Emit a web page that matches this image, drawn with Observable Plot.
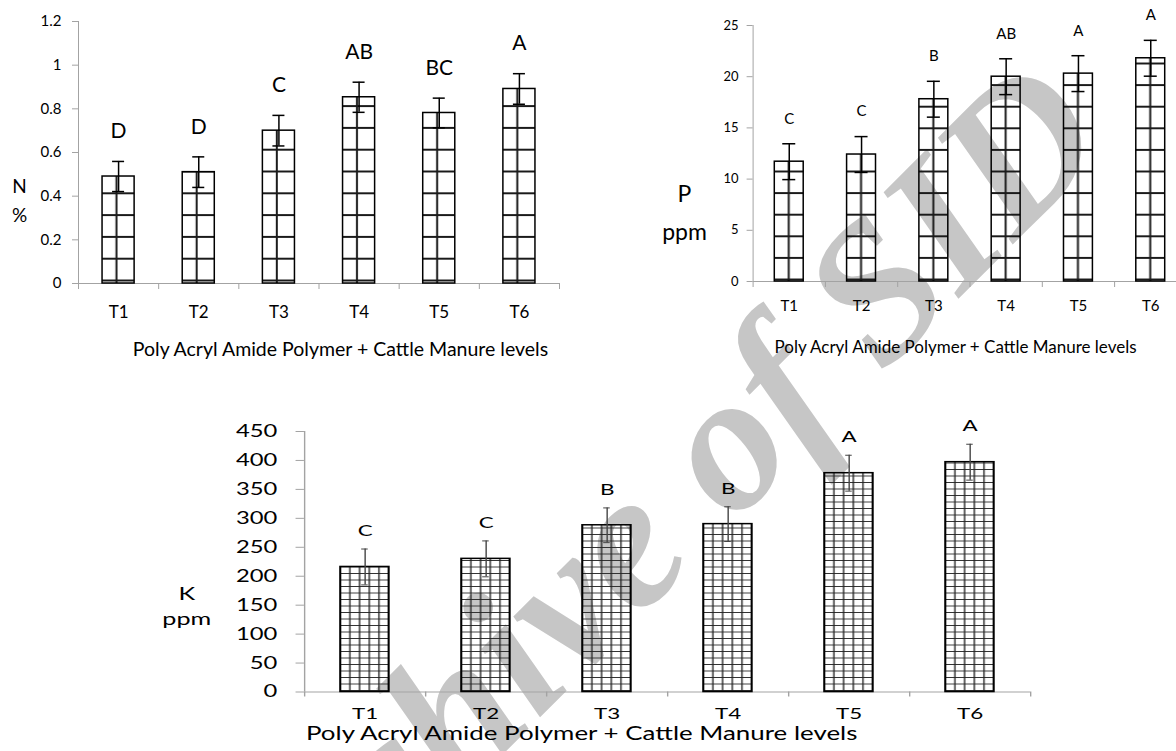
<!DOCTYPE html>
<html><head><meta charset="utf-8">
<script src="https://cdn.jsdelivr.net/npm/d3@7"></script>
<script src="https://cdn.jsdelivr.net/npm/@observablehq/plot@0.6"></script>
<style>
html,body{margin:0;padding:0;background:#fff;}
body{width:1176px;height:751px;overflow:hidden;position:relative;font-family:Lato,sans-serif;}
.layer{position:absolute;left:0;top:0;}
</style></head>
<body>
<div id="wm" class="layer"></div>
<div id="cN" class="layer" style="left:0;top:0"></div>
<div id="cP" class="layer" style="left:600px;top:0"></div>
<div id="cK" class="layer" style="left:0;top:400px;transform:scaleX(1.4);transform-origin:0 0"></div>
<script>
// ---------- data ----------
const categories = ["T1", "T2", "T3", "T4", "T5", "T6"];
const xTitle = "Poly Acryl Amide Polymer + Cattle Manure levels";

const nValues = [0.49, 0.51, 0.70, 0.853, 0.781, 0.891];
const nErrors = [0.069, 0.07, 0.07, 0.069, 0.068, 0.07];
const nLetters = ["D", "D", "C", "AB", "BC", "A"];
const nTicks = [0, 0.2, 0.4, 0.6, 0.8, 1, 1.2];
const nTickLabels = ["0", "0.2", "0.4", "0.6", "0.8", "1", "1.2"];
const nLabel = "N\n%";

const pValues = [11.7, 12.4, 17.8, 20.0, 20.3, 21.8];
const pErrors = [1.75, 1.75, 1.75, 1.75, 1.75, 1.75];
const pLetters = ["C", "C", "B", "AB", "A", "A"];
const pTicks = [0, 5, 10, 15, 20, 25];
const pTickLabels = ["0", "5", "10", "15", "20", "25"];
const pLabel = "P\nppm";

const kValues = [216, 230, 288, 290, 378, 397];
const kErrors = [31, 31, 30, 30, 31, 31];
const kLetters = ["C", "C", "B", "B", "A", "A"];
const kTicks = [0, 50, 100, 150, 200, 250, 300, 350, 400, 450];
const kTickLabels = ["0", "50", "100", "150", "200", "250", "300", "350", "400", "450"];
const kLabel = "K\nppm";

const watermark = "Archive of SID";

// ---------- drawing ----------
const GRAY = "#a3a3a3";

function chart(cfg) {
  const n = categories.length;
  const rows = categories.map((c, i) => ({c, i, v: cfg.values[i], e: cfg.errors[i], t: cfg.letters[i]}));
  const mid = d => d.i + 0.5;
  const plot = Plot.plot({
    width: cfg.width, height: cfg.height,
    marginLeft: cfg.ml, marginRight: cfg.width - cfg.right,
    marginTop: cfg.top, marginBottom: cfg.height - cfg.base,
    x: {domain: [0, n]},
    y: {domain: [cfg.ticks[0], cfg.ticks[cfg.ticks.length - 1]]},
    style: {background: "transparent", fontFamily: "Lato, sans-serif", color: "#000", overflow: "visible", maxWidth: "none"},
    marks: [
      Plot.ruleY([0], {stroke: GRAY}),
      Plot.ruleX([0], {stroke: GRAY}),
      Plot.axisY(cfg.ticks, {tickFormat: d => cfg.tickLabels[cfg.ticks.indexOf(d)], tickSize: cfg.yTickSize, tickPadding: cfg.yTickPad, fontSize: cfg.yFont, stroke: GRAY, fill: "#000", label: null}),
      Plot.axisX(d3.range(n + 1), {tickSize: cfg.xTickSize, tickFormat: () => "", stroke: GRAY, label: null}),
      Plot.axisX(categories.map((c, i) => i + 0.5), {tickSize: 0, tickPadding: cfg.xTickPad, tickFormat: d => categories[Math.floor(d)], fontSize: cfg.xFont, fill: "#000", label: null}),
      Plot.rectY(rows, {x1: d => d.i + 0.3, x2: d => d.i + 0.7, y: "v", fill: `url(#${cfg.id})`, stroke: "#000", strokeWidth: cfg.barStroke}),
      Plot.ruleX(rows, {x: mid, y1: d => d.v - d.e, y2: d => d.v + d.e, stroke: cfg.errColor, strokeWidth: cfg.errWidth}),
      Plot.ruleY(rows, {y: d => d.v + d.e, x1: d => d.i + 0.5 - cfg.cap, x2: d => d.i + 0.5 + cfg.cap, stroke: cfg.errColor, strokeWidth: cfg.errWidth}),
      Plot.ruleY(rows, {y: d => d.v - d.e, x1: d => d.i + 0.5 - cfg.cap, x2: d => d.i + 0.5 + cfg.cap, stroke: cfg.errColor, strokeWidth: cfg.errWidth}),
      Plot.text(rows, {x: mid, y: d => d.v + d.e, text: "t", dy: cfg.letterDy, fontSize: cfg.letterFont, fill: "#000"}),
      Plot.text([xTitle], {frameAnchor: "bottom", dx: cfg.titleDx, dy: cfg.titleDy, fontSize: cfg.titleFont, fill: "#000"}),
      Plot.text([cfg.label], {frameAnchor: "left", dx: cfg.labDx, dy: cfg.labDy, fontSize: cfg.labFont, lineHeight: cfg.labLH, textAnchor: "middle", fill: "#000"})
    ]
  });
  // hatch pattern aligned with the scales
  const xs = plot.scale("x"), ys = plot.scale("y");
  const x0 = xs.apply(0), step = xs.apply(1) - x0, base = ys.apply(0);
  const defs = d3.select(plot).insert("defs", ":first-child");
  const p = defs.append("pattern").attr("id", cfg.id).attr("patternUnits", "userSpaceOnUse")
    .attr("x", x0).attr("y", base - cfg.hOff - cfg.hSpace / 2)
    .attr("width", step).attr("height", cfg.hSpace);
  p.append("line").attr("x1", 0).attr("x2", step).attr("y1", cfg.hSpace / 2).attr("y2", cfg.hSpace / 2)
    .attr("stroke", cfg.hColor).attr("stroke-width", cfg.hWidth);
  cfg.vLines.forEach(f => {
    p.append("line").attr("x1", f * step).attr("x2", f * step).attr("y1", 0).attr("y2", cfg.hSpace)
      .attr("stroke", cfg.vColor).attr("stroke-width", cfg.vWidth);
  });
  return plot;
}

// watermark (behind the charts)
const wm = d3.select("#wm").append("svg").attr("width", 1176).attr("height", 751);
wm.append("text").text(watermark)
  .attr("transform", "translate(648,540) rotate(-45)")
  .attr("text-anchor", "middle").attr("dy", "0.25em")
  .attr("font-family", "Liberation Serif").attr("font-weight", "bold").attr("font-style", "italic")
  .attr("font-size", 196).attr("fill", "#c6c6c6");

document.getElementById("cN").append(chart({
  id: "patN", values: nValues, errors: nErrors, letters: nLetters, ticks: nTicks, tickLabels: nTickLabels, label: nLabel,
  width: 600, height: 380, ml: 78, right: 559, top: 21, base: 283,
  yTickSize: 6, yTickPad: 11, yFont: 15, xTickSize: 6, xTickPad: 22.5, xFont: 17,
  barStroke: 1.5, errColor: "#000", errWidth: 1.5, cap: 0.075,
  letterDy: -30, letterFont: 21, titleDx: 21.5, titleDy: 72, titleFont: 19.5,
  labDx: -59, labDy: 46, labFont: 19, labLH: 1.5,
  hSpace: 21.8, hOff: 2.5, hColor: "#1a1a1a", hWidth: 2, vLines: [0.48], vColor: "#1a1a1a", vWidth: 2
}));

document.getElementById("cP").append(chart({
  id: "patP", values: pValues, errors: pErrors, letters: pLetters, ticks: pTicks, tickLabels: pTickLabels, label: pLabel,
  width: 600, height: 380, ml: 152.6, right: 586.4, top: 25, base: 281,
  yTickSize: 6, yTickPad: 8.5, yFont: 13, xTickSize: 6, xTickPad: 18.5, xFont: 15,
  barStroke: 1.5, errColor: "#000", errWidth: 1.5, cap: 0.09,
  letterDy: -25, letterFont: 15, titleDx: -14.5, titleDy: 71, titleFont: 17,
  labDx: -68.6, labDy: 55, labFont: 23, labLH: 1.65,
  hSpace: 21.6, hOff: 1.5, hColor: "#1a1a1a", hWidth: 2, vLines: [0.5], vColor: "#1a1a1a", vWidth: 2
}));

document.getElementById("cK").append(chart({
  id: "patK", values: kValues, errors: kErrors, letters: kLetters, ticks: kTicks, tickLabels: kTickLabels, label: kLabel,
  width: 800, height: 351, ml: 217.1, right: 735.7, top: 31, base: 291.5,
  yTickSize: 6, yTickPad: 13.5, yFont: 17, xTickSize: 5, xTickPad: 16, xFont: 16,
  barStroke: 1.5, errColor: "#444", errWidth: 1, cap: 0.027,
  letterDy: -18, letterFont: 16, titleDx: -61.4, titleDy: 48, titleFont: 18.5,
  labDx: -84.2, labDy: 42.25, labFont: 18, labLH: 1.39,
  hSpace: 6.5, hOff: 1, hColor: "#333", hWidth: 1, vLines: [0.38, 0.46, 0.54, 0.62], vColor: "#222", vWidth: 1
}));
</script>
</body></html>
